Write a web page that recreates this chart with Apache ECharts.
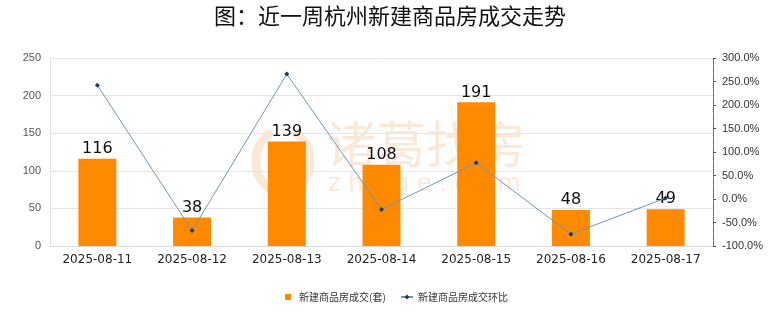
<!DOCTYPE html>
<html><head><meta charset="utf-8">
<script src="https://cdn.jsdelivr.net/npm/echarts@6/dist/echarts.min.js"></script>
<style>html,body{margin:0;padding:0;background:#fff}#c{width:780px;height:328px}</style>
</head><body><div id="c"></div>
<script>
const categories = ['2025-08-11','2025-08-12','2025-08-13','2025-08-14','2025-08-15','2025-08-16','2025-08-17'];
const deals = [116, 38, 139, 108, 191, 48, 49];
const ratio = [242.0, -67.2, 265.8, -22.3, 76.9, -74.9, 2.1];
const titleText = '图：近一周杭州新建商品房成交走势';
const barName = '新建商品房成交(套)';
const lineName = '新建商品房成交环比';

const wm = 'rgba(236,160,95,0.24)';
const chart = echarts.init(document.getElementById('c'));
chart.setOption({
  animation: false,
  title: { text: titleText, left: 'center', top: 0,
    textStyle: { fontSize: 22, fontWeight: 'normal', color: '#111', fontFamily: 'Noto Sans CJK SC' } },
  graphic: [{
    type: 'text', left: 326, top: 119, silent: true, z: -1,
    style: { text: '诸葛找房', fontSize: 50, fill: wm, fontFamily: 'Noto Sans CJK SC' }
  },{
    type: 'text', left: 328, top: 173, silent: true, z: -1,
    style: { text: 'z h u g e . c o m', fontSize: 24, fill: wm, fontFamily: 'DejaVu Sans' }
  },{
    type: 'bezierCurve', silent: true, z: -1,
    shape: { x1: 272, y1: 132, cpx1: 250, cpy1: 145, cpx2: 250, cpy2: 180, x2: 275, y2: 192 },
    style: { stroke: wm, lineWidth: 9, fill: null }
  },{
    type: 'bezierCurve', silent: true, z: -1,
    shape: { x1: 294, y1: 132, cpx1: 316, cpy1: 145, cpx2: 316, cpy2: 180, x2: 291, y2: 192 },
    style: { stroke: wm, lineWidth: 9, fill: null }
  }],
  legend: [{
    left: 280, bottom: 21, itemWidth: 6, itemHeight: 6,
    textStyle: { fontSize: 10, color: '#333', fontFamily: 'Noto Sans CJK SC', padding: [0, 0, 0, 3] },
    data: [{ name: barName, icon: 'rect' }]
  },{
    left: 395, bottom: 21, itemWidth: 12, itemHeight: 6,
    textStyle: { fontSize: 10, color: '#333', fontFamily: 'Noto Sans CJK SC' },
    data: [{ name: lineName }]
  }],
  grid: { left: 50, right: 67, top: 58, bottom: 82, containLabel: false },
  xAxis: {
    type: 'category', data: categories,
    axisLine: { lineStyle: { color: '#d9d9d9' } },
    axisTick: { show: false },
    axisLabel: { color: '#222', fontSize: 12, margin: 8, fontFamily: 'DejaVu Sans' }
  },
  yAxis: [{
    type: 'value', min: 0, max: 250, interval: 50,
    axisLine: { show: true, lineStyle: { color: '#e0e0e0' } },
    axisTick: { show: false },
    axisLabel: { color: '#555', fontSize: 11, margin: 9 },
    splitLine: { lineStyle: { color: '#e6e6e6' } }
  },{
    type: 'value', min: -100, max: 300, interval: 50, position: 'right',
    axisLine: { show: true, lineStyle: { color: '#555', type: 'dotted' } },
    axisTick: { show: true, length: 3, lineStyle: { color: '#555' } },
    axisLabel: { color: '#333', fontSize: 11, margin: 9, formatter: v => v.toFixed(1) + '%' },
    splitLine: { show: false }
  }],
  series: [{
    name: barName, type: 'bar', data: deals, barWidth: 38,
    itemStyle: { color: '#FF8A00' },
    label: { show: true, position: 'top', fontSize: 16, color: '#111', distance: 2, fontFamily: 'DejaVu Sans' }
  },{
    name: lineName, type: 'line', yAxisIndex: 1, data: ratio,
    symbol: 'diamond', symbolSize: 5,
    lineStyle: { color: '#6E93BD', width: 1 },
    itemStyle: { color: '#203864' }
  }]
});
</script></body></html>
